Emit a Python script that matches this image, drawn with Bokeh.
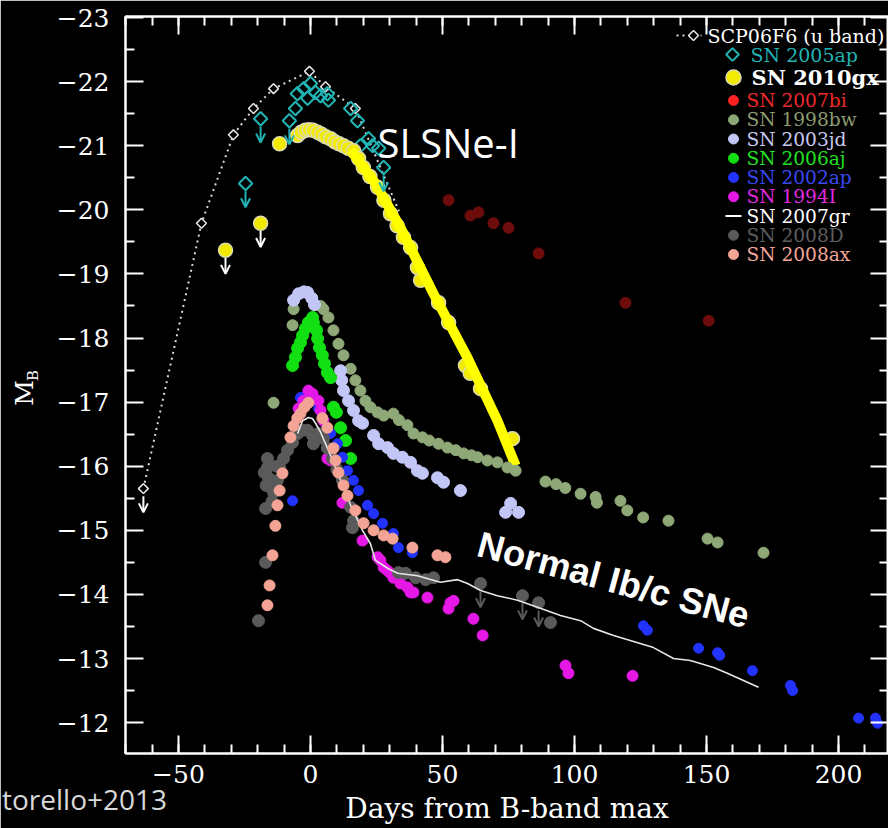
import math
from bokeh.plotting import figure
from bokeh.models import Range1d, LinearAxis, FixedTicker, Label, Arrow, OpenHead, ColumnDataSource, Div
from bokeh.layouts import column
from bokeh.embed import file_html
from bokeh.resources import INLINE
from bokeh.core.properties import value

# ---------------- data (days from B max, absolute mag M_B) ----------------
SCP_D = [-63.3, -41.3, -29.2, -21.6, -14.0, -0.4, 5.7, 17.0]
SCP_M = [-15.65, -19.79, -21.17, -21.58, -21.89, -22.16, -21.92, -21.58]
SCP_LINE_D = [-63.3, -41.3, -29.2, -21.6, -14.0, -0.4, 5.7, 17.0, 33.5]
SCP_LINE_M = [-15.65, -19.79, -21.17, -21.58, -21.89, -22.16, -21.92, -21.58, -19.98]
SCP_LIM_D = [-63.3]
SCP_LIM_M = [-15.65]

AP05_D = [-5.7, -5.0, -2.6, -1.1, 0.0, 1.9, 3.8, 6.4, 6.8, 15.2, 17.8, 18.9, 22.0, 23.5, 25.8]
AP05_M = [-21.58, -21.81, -21.89, -21.74, -21.97, -21.83, -21.78, -21.81, -21.71, -21.58, -21.39, -21.0, -21.11, -21.0, -20.96]
AP05_LIM_D = [-24.6, -18.9, -8.0, 27.7]
AP05_LIM_M = [-20.41, -21.42, -21.39, -20.66]

GX_D = [-11.7, -4.9, -3.5, -2.0, -0.5, 1.0, 2.7, 4.2, 5.8, 7.6, 9.2, 10.8, 12.5, 14.3, 16.3, 18.2,
        20.0, 22.5, 25.4, 27.8, 30.3, 32.8, 35.2, 37.9, 40.5, 41.7, 48.5, 52.3, 58.7, 60.5, 64.4, 76.5]
GX_M = [-21.03, -21.16, -21.21, -21.24, -21.25, -21.24, -21.21, -21.18, -21.14, -21.11, -21.06, -21.03,
        -21.0, -20.96, -20.92, -20.8, -20.66, -20.52, -20.35, -20.15, -19.94, -19.75, -19.57, -19.41,
        -19.1, -18.9, -18.55, -18.24, -17.57, -17.45, -17.21, -16.43]
GX_LINE_D = [15.2, 24.6, 34.1, 46.6, 59.5, 70.8, 77.7]
GX_LINE_M = [-20.93, -20.41, -19.72, -18.69, -17.69, -16.71, -16.01]
GX_LIM_D = [-32.2, -18.9]
GX_LIM_M = [-19.37, -19.79]

BI_D = [52.3, 60.6, 63.6, 69.3, 75.0, 86.4, 119.3, 150.8]
BI_M = [-20.15, -19.91, -19.96, -19.79, -19.72, -19.32, -18.55, -18.27]

BW_D = [-14.0, -6.8, -6.4, 3.8, 4.9, 6.8, 8.7, 10.6, 12.5, 15.2, 17.0, 18.9, 20.8, 22.7, 25.4, 27.7,
        31.4, 33.5, 36.7, 39.0, 42.4, 45.0, 48.5, 51.9, 55.0, 58.0, 61.0, 63.3, 67.0, 70.8, 74.6, 77.7,
        89.0, 93.0, 96.5, 102.3, 108.0, 108.5, 117.4, 120.0, 126.0, 135.6, 150.4, 154.2, 171.6]
BW_M = [-16.99, -18.2, -18.45, -18.5, -18.45, -18.32, -18.12, -17.91, -17.73, -17.52, -17.34, -17.18,
        -17.02, -16.92, -16.84, -16.79, -16.82, -16.72, -16.64, -16.51, -16.45, -16.40, -16.35, -16.29,
        -16.25, -16.2, -16.17, -16.14, -16.09, -16.06, -15.98, -15.93, -15.76, -15.72, -15.66, -15.57,
        -15.52, -15.43, -15.46, -15.31, -15.2, -15.15, -14.87, -14.81, -14.65]

JD_D = [-6.4, -4.5, -2.5, -1.1, 0.5, 1.5, 11.4, 11.8, 12.5, 14.4, 16.3, 18.2, 19.7, 23.9, 25.8, 29.2,
        31.4, 34.8, 37.9, 40.5, 42.4, 48.1, 50.4, 56.8, 73.9, 75.8, 78.8]
JD_M = [-18.59, -18.69, -18.72, -18.71, -18.62, -18.52, -17.49, -17.34, -17.18, -17.02, -16.87, -16.71,
        -16.67, -16.48, -16.35, -16.29, -16.2, -16.14, -16.06, -15.93, -15.89, -15.82, -15.75, -15.62,
        -15.28, -15.42, -15.28]

AJ_D = [-6.8, -5.7, -4.9, -3.8, -3.0, -1.9, -0.8, 0.8, 1.1, 2.3, 2.7, 3.4, 4.5, 5.3, 6.4, 7.6, 8.7,
        9.8, 11.4, 13.3, 15.2]
AJ_M = [-17.57, -17.7, -17.84, -17.93, -18.04, -18.15, -18.24, -18.32, -18.24, -18.12, -17.99, -17.85,
        -17.73, -17.6, -17.46, -17.38, -16.92, -16.84, -16.6, -16.4, -16.12]

AP02_D = [-6.8, -3.8, -1.9, -1.1, 1.5, 3.0, 4.9, 7.6, 10.2, 12.1, 14.0, 16.3, 18.2, 21.6, 23.9, 27.3,
          31.4, 33.3, 38.6, 126.1, 127.6, 147.0, 154.2, 155.0, 167.4, 181.8, 182.6, 207.6, 214.0, 214.8]
AP02_M = [-15.46, -17.07, -17.1, -17.13, -17.05, -16.9, -16.71, -16.51, -16.35, -16.14, -15.93, -15.78,
          -15.62, -15.39, -15.26, -15.11, -14.95, -14.73, -14.65, -13.51, -13.44, -13.16, -13.09, -13.05,
          -12.81, -12.58, -12.5, -12.07, -12.07, -11.99]

I94_D = [-4.5, -2.7, -0.8, 0.8, 3.0, 3.8, 4.9, 6.4, 7.6, 12.1, 19.7, 25.4, 26.5, 27.7, 29.2, 30.3,
         31.4, 34.1, 36.7, 37.9, 39.0, 44.3, 52.3, 53.0, 54.2, 61.7, 65.2, 96.6, 97.7, 122.0]
I94_M = [-16.9, -17.02, -17.18, -17.13, -17.02, -16.87, -16.71, -16.12, -16.09, -15.43, -14.84, -14.58,
         -14.53, -14.42, -14.37, -14.33, -14.26, -14.17, -14.11, -14.03, -14.03, -13.95, -13.78, -13.87,
         -13.9, -13.62, -13.36, -12.89, -12.77, -12.73]

GR_D = [-4.9, -3.0, -0.8, 0.8, 1.9, 3.8, 7.6, 11.4, 15.2, 19.7, 22.7, 24.6, 29.5, 33.0, 40.5, 49.2,
        55.7, 59.5, 64.4, 70.8, 78.4, 86.0, 94.7, 102.3, 107.2, 114.8, 129.9, 137.5, 143.9, 152.7,
        157.9, 169.7]
GR_M = [-16.51, -16.71, -16.76, -16.74, -16.67, -16.53, -16.17, -15.78, -15.39, -15.0, -14.79, -14.53,
        -14.4, -14.33, -14.29, -14.19, -14.23, -14.17, -14.06, -13.98, -13.91, -13.8, -13.67, -13.59,
        -13.47, -13.36, -13.17, -13.0, -12.97, -12.86, -12.77, -12.55]

D08_D = [-19.7, -17.0, -17.0, -17.5, -16.8, -16.3, -16.3, -15.9, -15.2, -14.6, -14.0, -13.5, -12.8,
         -12.5, -11.7, -10.2, -8.7, -6.8, -4.9, -3.0, -1.1, 0.8, 1.1, 3.0, 4.9, 6.4, 8.3, 10.0, 12.1,
         15.2, 16.3, 15.9, 33.3, 36.0, 39.8, 43.6, 46.6, 90.9]
D08_M = [-13.59, -14.5, -15.34, -15.9, -15.7, -16.12, -15.98, -15.82, -15.67, -15.45, -15.59, -15.75,
         -16.0, -15.78, -15.98, -16.12, -16.25, -16.37, -16.51, -16.56, -16.56, -16.48, -16.35, -16.51,
         -16.43, -16.28, -16.12, -15.95, -15.78, -15.36, -15.15, -15.04, -14.34, -14.33, -14.26, -14.23,
         -14.26, -13.56]
D08_LIM_D = [64.4, 80.3, 86.4]
D08_LIM_M = [-14.17, -13.98, -13.87]

AX_D = [-16.3, -15.5, -14.4, -13.3, -12.5, -11.7, -10.6, -7.6, -6.4, -5.0, -3.8, -2.3, -0.8, 4.5, 6.4,
        8.7, 9.5, 10.6, 12.5, 14.0, 17.0, 20.1, 23.9, 27.7, 31.1, 38.6, 48.1, 51.1]
AX_M = [-13.83, -14.14, -14.61, -15.07, -15.39, -15.62, -15.89, -16.45, -16.63, -16.75, -16.82, -16.92,
        -16.99, -16.75, -16.6, -16.28, -16.09, -15.9, -15.7, -15.54, -15.31, -15.11, -15.0, -14.92,
        -14.87, -14.73, -14.61, -14.58]

X_TICKS = [-50, 0, 50, 100, 150, 200]
Y_TICKS = [-23, -22, -21, -20, -19, -18, -17, -16, -15, -14, -13, -12]

LEG_LABELS = ["SCP06F6 (u band)", "SN 2005ap", "SN 2010gx", "SN 2007bi", "SN 1998bw", "SN 2003jd",
              "SN 2006aj", "SN 2002ap", "SN 1994I", "SN 2007gr", "SN 2008D", "SN 2008ax"]

# ---------------- colours ----------------
C_CYAN = "#22b4b4"
C_YEL = "#f2ea00"
C_BI = "#6e0c0c"
C_BW = "#8fa878"
C_JD = "#c2c6f6"
C_AJ = "#12e012"
C_AP = "#2232ff"
C_I = "#e618e6"
C_GR = "#e6e6e6"
C_D = "#5a5a5a"
C_AX = "#f4a494"
LEG_TEXT_COLORS = ["white", C_CYAN, "white", "#ee2a2a", "#8c9c70", "#c8c8f0", "#22e022", "#3a48f2",
                   "#e02ae0", "white", "#5e5e5e", "#f2a69a"]

# ---------------- layout helpers (page pixel -> data) ----------------
PX0, PXD = 310.0, 2.64
PY0, PYM = 17.0, 64.1
def dx(px):
    return (px - PX0) / PXD
def my(py):
    return -23.0 + (py - PY0) / PYM

W, H = 888, 828
p = figure(width=W, height=H, output_backend="svg", toolbar_location=None,
           x_range=Range1d(dx(125), dx(888)), y_range=Range1d(my(753), my(16)),
           x_axis_location=None, y_axis_location=None,
           background_fill_color="black", border_fill_color="black",
           outline_line_color="white", outline_line_width=2,
           min_border_left=125, min_border_right=0, min_border_top=16, min_border_bottom=75)
p.grid.visible = False

def style_axis(ax, ticks, minor, labels):
    ax.ticker = FixedTicker(ticks=ticks, minor_ticks=minor)
    ax.axis_line_color = "white"
    ax.axis_line_width = 2
    ax.major_tick_line_color = "white"
    ax.major_tick_line_width = 2
    ax.minor_tick_line_color = "white"
    ax.minor_tick_line_width = 2
    ax.major_tick_in = 18
    ax.major_tick_out = 0
    ax.minor_tick_in = 9
    ax.minor_tick_out = 0
    if labels:
        ax.major_label_text_color = "white"
        ax.major_label_text_font = "DejaVu Serif"
        ax.major_label_text_font_size = "25px"
        ax.major_label_overrides = {t: ("\u2212%d" % abs(t) if t < 0 else "%d" % t) for t in ticks}
    else:
        ax.major_label_text_font_size = "1px"
        ax.major_label_text_color = None
        ax.major_label_standoff = 0

def style_title(ax, size):
    ax.axis_label_text_font = "DejaVu Serif"
    ax.axis_label_text_font_size = size
    ax.axis_label_text_font_style = "normal"
    ax.axis_label_text_color = "white"

x_minor = list(range(-70, 230, 10))
y_minor = [t + 0.5 for t in range(-24, -11)]

ax_b = LinearAxis(); style_axis(ax_b, X_TICKS, x_minor, True)
ax_b.major_label_standoff = 11
ax_b.axis_label = "Days from B-band max"
style_title(ax_b, "28px")
ax_b.axis_label_standoff = 6

ax_t = LinearAxis(); style_axis(ax_t, X_TICKS, x_minor, False)

ax_l = LinearAxis(); style_axis(ax_l, Y_TICKS, y_minor, True)
ax_l.major_label_standoff = 16
ax_l.axis_label = "\u00a0" * 4 + "B"          # subscript of M_B
style_title(ax_l, "15px")
ax_l.axis_label_standoff = 12

ax_m = LinearAxis(ticker=FixedTicker(ticks=[]), axis_label="M\u00a0\u00a0")
ax_m.axis_line_color = None
ax_m.major_tick_line_color = None
ax_m.minor_tick_line_color = None
ax_m.major_tick_out = 0
ax_m.minor_tick_out = 0
ax_m.major_label_standoff = 0
ax_m.major_label_text_font_size = "1px"
ax_m.major_label_text_color = None
ax_m.axis_label_standoff = -18
style_title(ax_m, "25px")

ax_r = LinearAxis(); style_axis(ax_r, Y_TICKS, y_minor, False)
p.add_layout(ax_b, "below")
p.add_layout(ax_t, "above")
p.add_layout(ax_l, "left")
p.add_layout(ax_m, "left")
p.add_layout(ax_r, "right")

def limits(xs, ys, color):
    src = ColumnDataSource(dict(x=xs, y0=[y + 0.12 for y in ys], y1=[y + 0.37 for y in ys]))
    p.add_layout(Arrow(end=OpenHead(size=9, line_color=color, line_width=2),
                       x_start="x", y_start="y0", x_end="x", y_end="y1", source=src,
                       line_color=color, line_width=2))

DIAM = dict(marker="square", angle=math.pi / 4)

# SCP06F6
p.line(SCP_LINE_D, SCP_LINE_M, line_color="#d8d8d8", line_width=2, line_dash="2 4")
p.scatter(SCP_D, SCP_M, size=7, fill_color="black", line_color="#e8e8e8", line_width=1.5, **DIAM)
limits(SCP_LIM_D, SCP_LIM_M, "white")

# SN 2005ap
p.scatter(AP05_D + AP05_LIM_D, AP05_M + AP05_LIM_M, size=9.5, fill_color=None, line_color=C_CYAN,
          line_width=2, **DIAM)
limits(AP05_LIM_D, AP05_LIM_M, C_CYAN)

# SN 2010gx
p.scatter(GX_D + GX_LIM_D, GX_M + GX_LIM_M, marker="circle", size=14, fill_color=C_YEL,
          line_color="#dcdcae", line_width=1.5)
p.line(GX_LINE_D, GX_LINE_M, line_color="#ffff00", line_width=10)
limits(GX_LIM_D, GX_LIM_M, "white")

# normal Ib/c
p.scatter(BI_D, BI_M, marker="circle", size=11, color=C_BI)
p.scatter(BW_D, BW_M, marker="circle", size=11, color=C_BW)
p.scatter(JD_D, JD_M, marker="circle", size=12, color=C_JD)
p.scatter(AJ_D, AJ_M, marker="circle", size=12, color=C_AJ)
p.scatter(AP02_D, AP02_M, marker="circle", size=10, color=C_AP)
p.scatter(I94_D, I94_M, marker="circle", size=11, color=C_I)
p.scatter(D08_D + D08_LIM_D, D08_M + D08_LIM_M, marker="circle", size=12, color=C_D)
limits(D08_LIM_D, D08_LIM_M, C_D)
p.line(GR_D, GR_M, line_color=C_GR, line_width=1.6)
p.scatter(AX_D, AX_M, marker="circle", size=11, color=C_AX)

# ---------------- legend (drawn by hand to get coloured labels) ----------------
leg_y = [35, 54, 77, 100, 119.3, 138.5, 157.8, 177, 196.3, 215.5, 234.8, 254]
leg_tx = [707, 750, 751] + [746] * 9
leg_fs = ["19px", "19px", "21px"] + ["18.6px"] * 9
for i, lab in enumerate(LEG_LABELS):
    p.text([dx(leg_tx[i])], [my(leg_y[i])], text=[lab], text_color=LEG_TEXT_COLORS[i],
           text_font=value("DejaVu Serif"), text_font_size=leg_fs[i], text_baseline="middle",
           text_align="left", text_font_style="bold" if i == 2 else "normal")
p.line([dx(676), dx(701)], [my(leg_y[0])] * 2, line_color="#d8d8d8", line_width=2, line_dash="2 4")
p.scatter([dx(693)], [my(leg_y[0])], size=7, fill_color="black", line_color="#e8e8e8", line_width=1.5, **DIAM)
p.scatter([dx(732)], [my(leg_y[1])], size=9, fill_color=None, line_color=C_CYAN, line_width=2, **DIAM)
p.scatter([dx(733)], [my(leg_y[2])], marker="circle", size=15, fill_color=C_YEL, line_color="#dcdcae", line_width=1.5)
dot_cols = [("#ff2222", 3), (C_BW, 4), (C_JD, 5), (C_AJ, 6), (C_AP, 7), (C_I, 8), (C_D, 10), (C_AX, 11)]
for c, i in dot_cols:
    p.scatter([dx(733)], [my(leg_y[i])], marker="circle", size=10, color=c)
p.line([dx(725), dx(741)], [my(leg_y[9])] * 2, line_color="white", line_width=2)

# ---------------- annotations inside the frame ----------------
p.add_layout(Label(x=dx(377), y=my(142), text="SLSNe-I", text_font="Open Sans", text_font_size="40px",
                   text_color="white", text_baseline="alphabetic", text_align="left"))
p.add_layout(Label(x=dx(478), y=my(543), text="Normal Ib/c SNe", text_font="Liberation Sans",
                   text_font_style="bold", text_font_size="36.5px", text_color="white",
                   text_baseline="alphabetic", text_align="left", angle=-0.264))

# citation fragment at the bottom-left corner (outside the plot frame)
cite = Div(text="torello+2013",
           styles={"position": "absolute", "left": "2px", "top": "785px", "color": "#d9d9d9",
                   "font-family": "'Open Sans'", "font-size": "28px", "line-height": "28px",
                   "white-space": "nowrap", "margin": "0", "padding": "0"})

layout = column(p, cite)
open("out.html", "w").write(file_html(layout, INLINE))
